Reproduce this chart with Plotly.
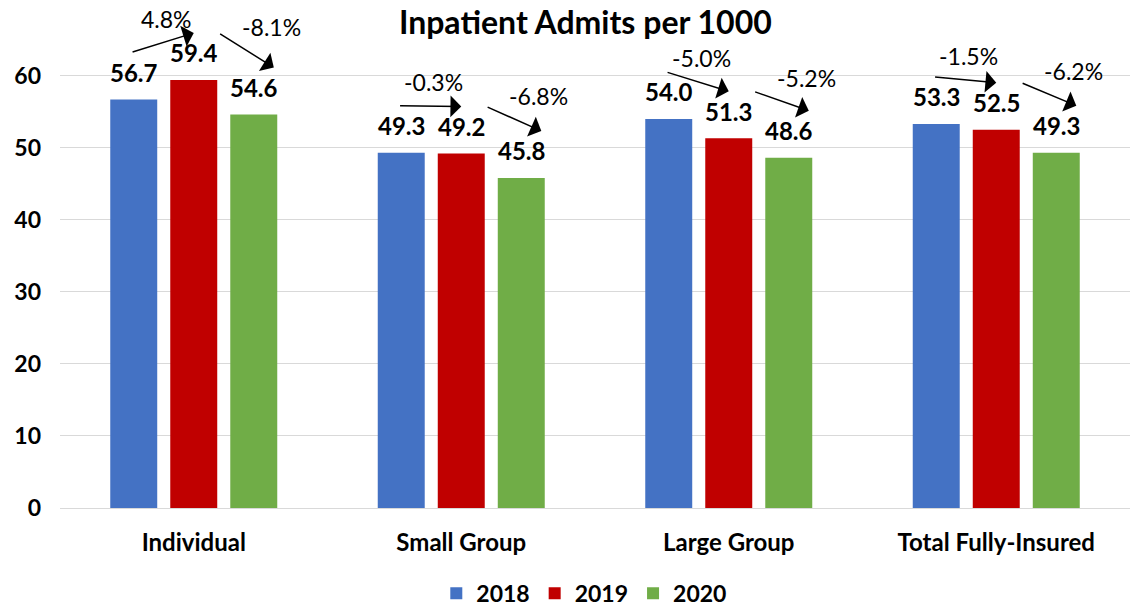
import plotly.graph_objects as go

categories = ["Individual", "Small Group", "Large Group", "Total Fully-Insured"]
years = ["2018", "2019", "2020"]
admits_2018 = [56.7, 49.3, 54.0, 53.3]
admits_2019 = [59.4, 49.2, 51.3, 52.5]
admits_2020 = [54.6, 45.8, 48.6, 49.3]
# year-over-year change: 2018->2019, 2019->2020
change_18_19 = ["4.8%", "-0.3%", "-5.0%", "-1.5%"]
change_19_20 = ["-8.1%", "-6.8%", "-5.2%", "-6.2%"]

colors = ["#4472C4", "#C00000", "#70AD47"]
series = [admits_2018, admits_2019, admits_2020]

FONT = "Lato"
slot = 0.2243  # width of one bar slot in category units
offsets = [-slot, 0, slot]

fig = go.Figure()
for yr, vals, col in zip(years, series, colors):
    fig.add_trace(go.Bar(
        x=categories,
        y=vals,
        name=yr,
        marker=dict(color=col, line=dict(width=0)),
        hoverinfo="x+y",
    ))

annotations = []

# value labels above each bar
for vals, off in zip(series, offsets):
    for i, v in enumerate(vals):
        annotations.append(dict(
            x=i + off, y=v, xref="x", yref="y",
            text=f"{v:.1f}", showarrow=False, yshift=27,
            font=dict(family=FONT, size=24, color="#000000", weight="bold"),
        ))

# arrows with percent change
for i in range(len(categories)):
    pairs = [
        (admits_2018[i], admits_2019[i], offsets[0], offsets[1], -0.01, 0.0, change_18_19[i], 4, 24),
        (admits_2019[i], admits_2020[i], offsets[1], offsets[2], 0.093, 0.075, change_19_20[i], 25, 23),
    ]
    for v0, v1, o0, o1, dx0, dx1, label, tx, ty in pairs:
        x0 = i + o0 + dx0
        x1 = i + o1 + dx1
        annotations.append(dict(
            x=x1, y=v1, xref="x", yref="y",
            ax=x0, ay=v0, axref="x", ayref="y",
            text="", showarrow=True, arrowhead=1, arrowsize=2.4,
            arrowwidth=1.5, arrowcolor="#000000", yshift=47, standoff=0,
        ))
        annotations.append(dict(
            x=(x0 + x1) / 2, y=(v0 + v1) / 2, xref="x", yref="y",
            text=label, showarrow=False, yshift=47 + ty, xshift=tx,
            font=dict(family=FONT, size=23, color="#000000"),
        ))

fig.update_layout(
    width=1130,
    height=610,
    barmode="group",
    bargap=0.327,
    bargroupgap=0.217,
    plot_bgcolor="white",
    paper_bgcolor="white",
    margin=dict(l=60, r=0, t=18, b=102, autoexpand=False),
    title=dict(
        text="<b>Inpatient Admits per 1000</b>",
        x=0.518, xref="container", xanchor="center",
        y=0.963, yref="container", yanchor="middle",
        font=dict(family=FONT, size=32, color="#000000"),
    ),
    font=dict(family=FONT, color="#000000"),
    xaxis=dict(
        tickfont=dict(family=FONT, size=24, color="#000000", weight="bold"),
        showline=False, ticks="", showgrid=False, ticklabelstandoff=18,
    ),
    yaxis=dict(
        range=[0, 68],
        tickvals=[0, 10, 20, 30, 40, 50, 60],
        tickfont=dict(family=FONT, size=23, color="#000000", weight="bold"),
        showgrid=True, gridcolor="#d9d9d9", gridwidth=1,
        zeroline=True, zerolinecolor="#d9d9d9", zerolinewidth=1,
        showline=False, ticks="", ticklabelstandoff=18,
    ),
    legend=dict(
        orientation="h", x=0.49, xanchor="center", y=-0.174, yanchor="middle",
        font=dict(family=FONT, size=23, color="#000000", weight="bold"),
        itemwidth=30, traceorder="normal",
    ),
    annotations=annotations,
    showlegend=True,
)

fig.write_html(
    "out.html",
    config={"displayModeBar": False},
    post_script="document.body.style.margin='0';document.body.style.overflow='hidden';",
)
